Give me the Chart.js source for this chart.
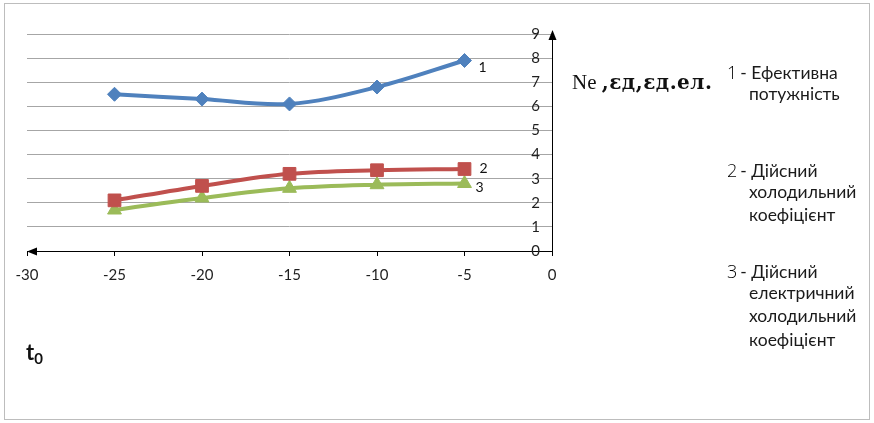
<!DOCTYPE html>
<html>
<head>
<meta charset="utf-8">
<script src="https://cdn.jsdelivr.net/npm/chart.js@4.4.0/dist/chart.umd.min.js"></script>
<style>
  html, body { margin: 0; padding: 0; background: #fff; }
  #wrap { position: relative; width: 874px; height: 423px; overflow: hidden; }
  #frame { position: absolute; left: 4px; top: 3px; width: 866px; height: 417px; border: 1px solid #bdbdbd; box-sizing: border-box; }
  #chart { position: absolute; left: 0; top: 0; }
  .txt { position: absolute; font-family: Lato, "Open Sans", sans-serif; font-size: 17.5px; color: #1a1a1a; white-space: nowrap; line-height: 1; transform: translateY(-50%); }
  .num { font-family: "Open Sans", sans-serif; font-weight: 300; font-size: 18px; color: #000; margin-right: 3px; }
  #yTitle { position: absolute; left: 572px; top: 82px; transform: translateY(-50%); font-family: "Liberation Serif", serif; font-size: 21px; color: #111; white-space: nowrap; }
  #yTitle b { font-family: "DejaVu Serif", serif; font-weight: bold; font-size: 20px; letter-spacing: 0.5px; }
  #xTitle { position: absolute; left: 26px; top: 352px; transform: translateY(-50%); font-family: Lato, "Open Sans", sans-serif; font-weight: bold; font-size: 22px; color: #111; }
  #xTitle sub { font-size: 15px; vertical-align: -4px; }
</style>
</head>
<body>
<div id="wrap">
  <div id="frame"></div>
  <canvas id="chart" width="874" height="423"></canvas>
  <div id="yTitle">Ne <b>,ɛд,ɛд.ел.</b></div>
  <div id="xTitle">t<sub>0</sub></div>

  <div class="txt" style="left:727px; top:72px;"><span class="num">1</span>- Ефективна</div>
  <div class="txt" style="left:749px; top:94px;">потужність</div>

  <div class="txt" style="left:727px; top:170px;"><span class="num">2</span>- Дійсний</div>
  <div class="txt" style="left:749px; top:192px;">холодильний</div>
  <div class="txt" style="left:749px; top:215px;">коефіцієнт</div>

  <div class="txt" style="left:727px; top:271px;"><span class="num">3</span>- Дійсний</div>
  <div class="txt" style="left:749px; top:293px;">електричний</div>
  <div class="txt" style="left:749px; top:316px;">холодильний</div>
  <div class="txt" style="left:749px; top:340px;">коефіцієнт</div>
</div>

<script>
// Evaporation temperature t0, °C
const temps = [-25, -20, -15, -10, -5];

// 1 - effective power Ne
const powerNe = [6.5, 6.3, 6.1, 6.8, 7.9];
// 2 - actual cooling coefficient
const coolCoef = [2.1, 2.7, 3.2, 3.35, 3.4];
// 3 - actual electric cooling coefficient
const elCoolCoef = [1.7, 2.2, 2.6, 2.75, 2.8];

const seriesNames = ['1', '2', '3'];
const seriesColors = ['#4f81bd', '#c0504d', '#9bbb59'];

const xMin = -30, xMax = 0, xStep = 5;
const yMin = 0, yMax = 9, yStep = 1;

function toPoints(values) {
    return temps.map((t, i) => ({ x: t, y: values[i] }));
}

// Axis arrow heads and the numbers next to the last point of each line
const axisDecor = {
    id: 'axisDecor',
    afterDraw(chart) {
        const { ctx, chartArea: a } = chart;
        ctx.save();
        ctx.fillStyle = '#000';
        ctx.strokeStyle = '#000';
        ctx.lineWidth = 1;

        // y axis: extend up and put an arrow on top
        ctx.beginPath();
        ctx.moveTo(a.right + 0.5, a.top);
        ctx.lineTo(a.right + 0.5, a.top - 3);
        ctx.stroke();
        ctx.beginPath();
        ctx.moveTo(a.right + 0.5, a.top - 4);
        ctx.lineTo(a.right - 3.5, a.top + 6);
        ctx.lineTo(a.right + 4.5, a.top + 6);
        ctx.closePath();
        ctx.fill();

        // x axis: arrow pointing left
        ctx.beginPath();
        ctx.moveTo(a.left, a.bottom + 0.5);
        ctx.lineTo(a.left + 10, a.bottom - 3.5);
        ctx.lineTo(a.left + 10, a.bottom + 4.5);
        ctx.closePath();
        ctx.fill();

        // series numbers
        const offsets = [[14, 7], [15, -1], [11, 4]];
        ctx.font = '14px Lato, "Open Sans", sans-serif';
        ctx.fillStyle = '#111';
        ctx.textBaseline = 'middle';
        ctx.textAlign = 'left';
        chart.data.datasets.forEach((ds, i) => {
            const pts = chart.getDatasetMeta(i).data;
            const last = pts[pts.length - 1];
            ctx.fillText(seriesNames[i], last.x + offsets[i][0], last.y + offsets[i][1]);
        });
        ctx.restore();
    }
};

const ctx = document.getElementById('chart');

new Chart(ctx, {
    type: 'line',
    data: {
        datasets: [
            {
                label: seriesNames[0],
                data: toPoints(powerNe),
                borderColor: seriesColors[0],
                backgroundColor: seriesColors[0],
                pointStyle: 'rectRot',
                pointRadius: 7,
            },
            {
                label: seriesNames[1],
                data: toPoints(coolCoef),
                borderColor: seriesColors[1],
                backgroundColor: seriesColors[1],
                pointStyle: 'rect',
                pointRadius: 9,
            },
            {
                label: seriesNames[2],
                data: toPoints(elCoolCoef),
                borderColor: seriesColors[2],
                backgroundColor: seriesColors[2],
                pointStyle: 'triangle',
                pointRadius: 8,
            }
        ]
    },
    options: {
        responsive: false,
        animation: false,
        events: [],
        elements: {
            line: { borderWidth: 4, tension: 0.35, fill: false },
            point: { borderWidth: 1 }
        },
        layout: {
            padding: { left: 27, top: 34, right: 322, bottom: 112 }
        },
        plugins: {
            legend: { display: false },
            tooltip: { enabled: false }
        },
        scales: {
            x: {
                type: 'linear',
                position: 'bottom',
                min: xMin,
                max: xMax,
                afterFit: (scale) => { scale.height = 60; },
                ticks: {
                    stepSize: xStep,
                    padding: 10,
                    color: '#1f1f1f',
                    font: { family: 'Lato, "Open Sans", sans-serif', size: 15 }
                },
                grid: {
                    drawOnChartArea: false,
                    tickColor: '#000',
                    tickLength: 5
                },
                border: { color: '#000', width: 1 }
            },
            y: {
                position: 'right',
                min: yMin,
                max: yMax,
                afterFit: (scale) => { scale.width = 0; },
                ticks: {
                    stepSize: yStep,
                    mirror: true,
                    padding: -12,
                    color: '#1f1f1f',
                    font: { family: 'Lato, "Open Sans", sans-serif', size: 15 }
                },
                grid: {
                    color: '#a6a6a6',
                    drawTicks: false
                },
                border: { color: '#000', width: 1 }
            }
        }
    },
    plugins: [axisDecor]
});
</script>
</body>
</html>
